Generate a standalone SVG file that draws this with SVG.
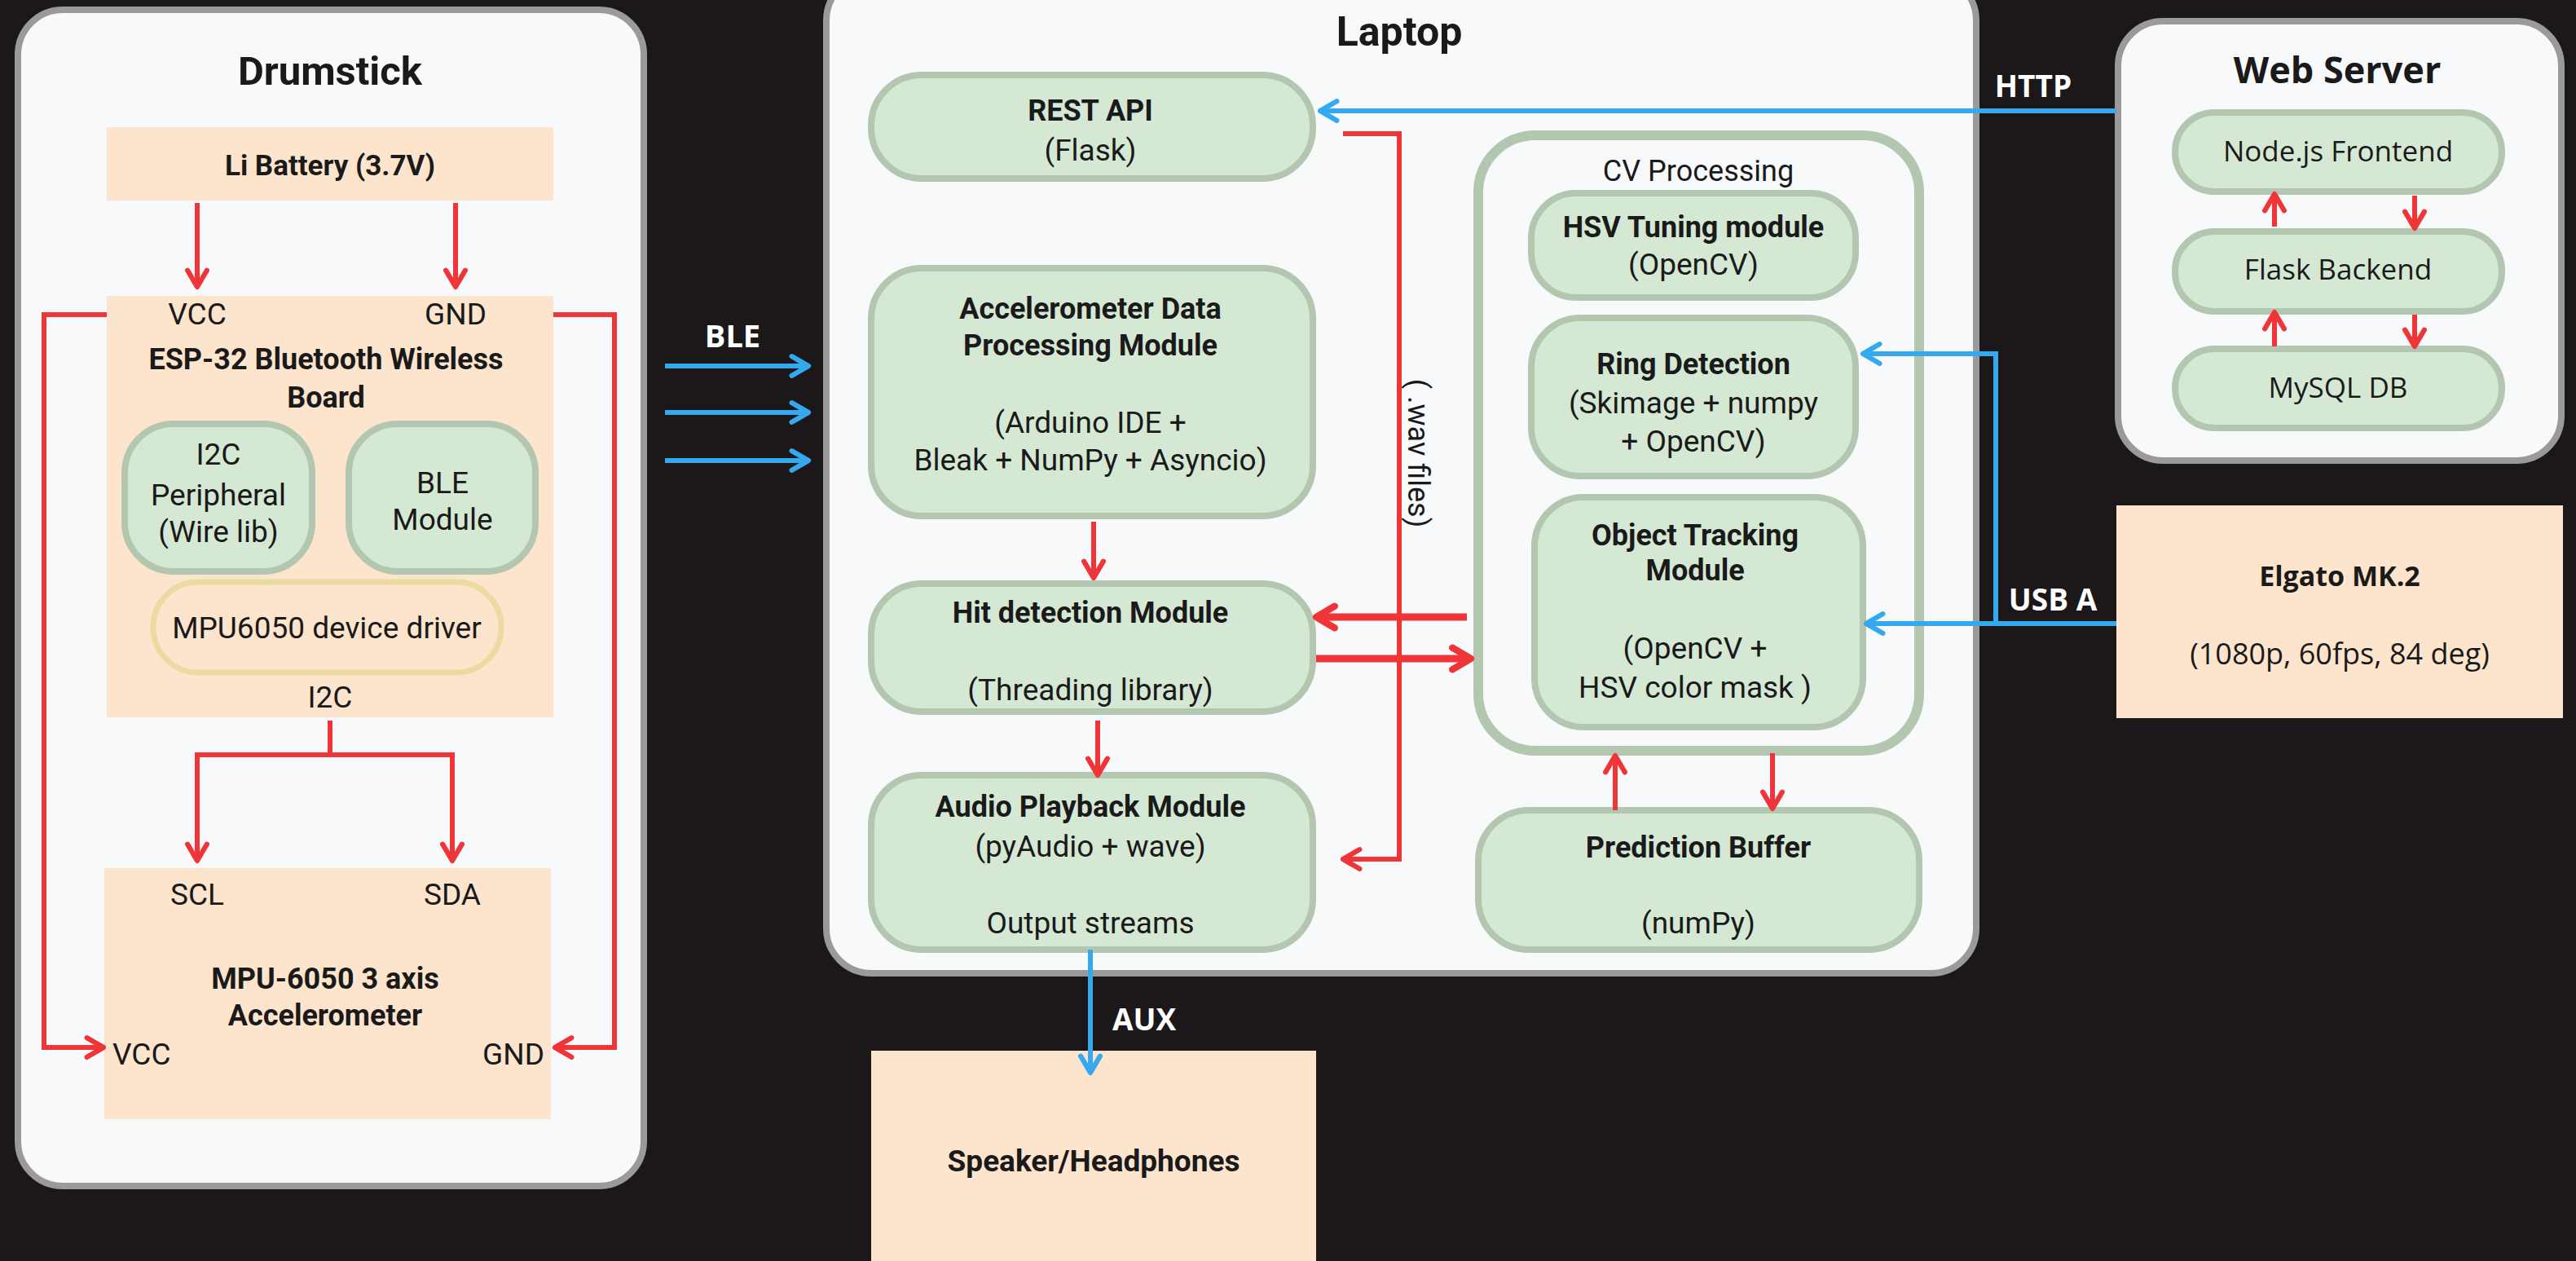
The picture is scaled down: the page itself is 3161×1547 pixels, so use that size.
<svg xmlns="http://www.w3.org/2000/svg" width="3161" height="1547" viewBox="0 0 3161 1547">
<defs>
<style>
.bg{fill:#1c181a}
.panel{fill:#f8f9fb;stroke:#9a9a9a;stroke-width:8}
.peach{fill:#fde4cc}
.pill{fill:#d5e8d4;stroke:#b3c7b0;stroke-width:8}
.drv{fill:none;stroke:#e9dba2;stroke-width:7}
.cv{fill:#f8f9fb;stroke:#b3c7b0;stroke-width:12}
.t{font-family:Roboto,"Liberation Sans",sans-serif;fill:#1a1a1a;text-anchor:middle;font-size:37px}
.b{font-weight:bold}
.w{font-family:"Open Sans","Liberation Sans",sans-serif;fill:#1a1a1a;text-anchor:middle;font-size:35px}
.lbl{font-family:"Open Sans","Liberation Sans",sans-serif;fill:#ffffff;font-weight:bold;text-anchor:middle;font-size:37px}
.f34{font-size:34px}
.f35{font-size:35px}
.f36{font-size:36px}
.f38{font-size:38px}
.f45{font-size:45px}
.f49{font-size:49px}
.f50{font-size:50px}
.st{text-anchor:start}
.en{text-anchor:end}
.red{fill:none;stroke:#ef3538;stroke-width:6;marker-end:url(#ar)}
.redt{fill:none;stroke:#ef3538;stroke-width:9;marker-end:url(#ar2)}
.blue{fill:none;stroke:#35a9ef;stroke-width:6;marker-end:url(#ab)}
</style>
<marker id="ar" viewBox="0 0 20 20" refX="17" refY="10" markerWidth="34" markerHeight="34" markerUnits="userSpaceOnUse" orient="auto"><path d="M5,3 L17,10 L5,17" fill="none" stroke="#ef3538" stroke-width="3.6" stroke-linecap="round" stroke-linejoin="round"/></marker>
<marker id="ar2" viewBox="0 0 20 20" refX="17" refY="10" markerWidth="38" markerHeight="38" markerUnits="userSpaceOnUse" orient="auto"><path d="M5,3 L17,10 L5,17" fill="none" stroke="#ef3538" stroke-width="4.4" stroke-linecap="round" stroke-linejoin="round"/></marker>
<marker id="ab" viewBox="0 0 20 20" refX="17" refY="10" markerWidth="34" markerHeight="34" markerUnits="userSpaceOnUse" orient="auto"><path d="M5,3 L17,10 L5,17" fill="none" stroke="#35a9ef" stroke-width="3.6" stroke-linecap="round" stroke-linejoin="round"/></marker>
</defs>
<rect class="bg" x="0" y="0" width="3161" height="1547"/>

<g id="drumstick">
<rect class="panel" x="22" y="12" width="768" height="1443" rx="55"/>
<text class="t b f49" x="405" y="104">Drumstick</text>
</g>
<g id="battery">
<rect class="peach" x="131" y="156" width="548" height="90"/>
<text class="t b f35" x="405" y="215">Li Battery (3.7V)</text>
</g>
<g id="esp32">
<rect class="peach" x="131" y="363" width="548" height="517"/>
<text class="t" x="242" y="398">VCC</text>
<text class="t" x="559" y="398">GND</text>
<text class="t b f36" x="400" y="453">ESP-32 Bluetooth Wireless</text>
<text class="t b f36" x="400" y="500">Board</text>
<text class="t" x="405" y="868">I2C</text>
</g>
<g id="i2c-peripheral">
<rect class="pill" x="153" y="520" width="230" height="181" rx="60"/>
<text class="t" x="268" y="570">I2C</text>
<text class="t" x="268" y="620">Peripheral</text>
<text class="t" x="268" y="665">(Wire lib)</text>
</g>
<g id="ble-module">
<rect class="pill" x="428" y="520" width="229" height="181" rx="60"/>
<text class="t" x="543" y="605">BLE</text>
<text class="t" x="543" y="650">Module</text>
</g>
<g id="mpu-driver">
<rect class="drv" x="188" y="714" width="427" height="111" rx="55"/>
<text class="t" x="401" y="783">MPU6050 device driver</text>
</g>
<g id="mpu6050">
<rect class="peach" x="128" y="1065" width="548" height="308"/>
<text class="t" x="242" y="1110">SCL</text>
<text class="t" x="555" y="1110">SDA</text>
<text class="t b f36" x="399" y="1213">MPU-6050 3 axis</text>
<text class="t b f36" x="399" y="1258">Accelerometer</text>
<text class="t st" x="138" y="1306">VCC</text>
<text class="t en" x="668" y="1306">GND</text>
</g>

<g id="laptop">
<rect class="panel" x="1014" y="-30" width="1411" height="1224" rx="55"/>
<text class="t b f50" x="1717" y="56">Laptop</text>
</g>
<g id="rest-api">
<rect class="pill" x="1069" y="92" width="542" height="127" rx="62"/>
<text class="t b f36" x="1338" y="148">REST API</text>
<text class="t" x="1338" y="197">(Flask)</text>
</g>
<g id="accel-processing">
<rect class="pill" x="1069" y="329" width="542" height="304" rx="62"/>
<text class="t b f36" x="1338" y="391">Accelerometer Data</text>
<text class="t b f36" x="1338" y="436">Processing Module</text>
<text class="t" x="1338" y="531">(Arduino IDE +</text>
<text class="t" x="1338" y="577">Bleak + NumPy + Asyncio)</text>
</g>
<g id="hit-detection">
<rect class="pill" x="1069" y="716" width="542" height="157" rx="62"/>
<text class="t b f36" x="1338" y="764">Hit detection Module</text>
<text class="t" x="1338" y="859">(Threading library)</text>
</g>
<g id="audio-playback">
<rect class="pill" x="1069" y="951" width="542" height="214" rx="62"/>
<text class="t b f36" x="1338" y="1002">Audio Playback Module</text>
<text class="t" x="1338" y="1051">(pyAudio + wave)</text>
<text class="t" x="1338" y="1145">Output streams</text>
</g>
<g id="cv-processing">
<rect class="cv" x="1814" y="166" width="541" height="755" rx="70"/>
<text class="t f36" x="2084" y="222">CV Processing</text>
</g>
<g id="hsv-tuning">
<rect class="pill" x="1879" y="237" width="398" height="128" rx="55"/>
<text class="t b f36" x="2078" y="291">HSV Tuning module</text>
<text class="t" x="2078" y="337">(OpenCV)</text>
</g>
<g id="ring-detection">
<rect class="pill" x="1879" y="390" width="398" height="194" rx="60"/>
<text class="t b f36" x="2078" y="459">Ring Detection</text>
<text class="t" x="2078" y="507">(Skimage + numpy</text>
<text class="t" x="2078" y="554">+ OpenCV)</text>
</g>
<g id="object-tracking">
<rect class="pill" x="1883" y="610" width="403" height="282" rx="60"/>
<text class="t b f36" x="2080" y="669">Object Tracking</text>
<text class="t b f36" x="2080" y="712">Module</text>
<text class="t" x="2080" y="808">(OpenCV +</text>
<text class="t" x="2080" y="856">HSV color mask )</text>
</g>
<g id="prediction-buffer">
<rect class="pill" x="1814" y="994" width="541" height="171" rx="62"/>
<text class="t b f36" x="2084" y="1052">Prediction Buffer</text>
<text class="t" x="2084" y="1145">(numPy)</text>
</g>

<g id="speaker">
<rect class="peach" x="1069" y="1289" width="546" height="290"/>
<text class="t b" x="1342" y="1437">Speaker/Headphones</text>
</g>

<g id="web-server">
<rect class="panel" x="2599" y="26" width="544" height="539" rx="55"/>
<text class="w b f45" x="2868" y="102">Web Server</text>
</g>
<g id="nodejs-frontend">
<rect class="pill" x="2669" y="138" width="401" height="97" rx="48"/>
<text class="w" x="2869" y="198">Node.js Frontend</text>
</g>
<g id="flask-backend">
<rect class="pill" x="2669" y="284" width="401" height="98" rx="48"/>
<text class="w" x="2869" y="343">Flask Backend</text>
</g>
<g id="mysql-db">
<rect class="pill" x="2669" y="428" width="401" height="97" rx="48"/>
<text class="w" x="2869" y="488">MySQL DB</text>
</g>

<g id="elgato">
<rect class="peach" x="2597" y="620" width="548" height="261"/>
<text class="w b f34" x="2871" y="719">Elgato MK.2</text>
<text class="w f36" x="2871" y="815">(1080p, 60fps, 84 deg)</text>
</g>

<g id="connectors">
<path class="red" d="M242,249 V352"/>
<path class="red" d="M559,249 V352"/>
<path class="red" d="M405,884 V926 H242 V1056"/>
<path class="red" d="M405,926 H555 V1056"/>
<path class="red" d="M131,386 H54 V1285 H127"/>
<path class="red" d="M679,386 H754 V1285 H681"/>
<path class="blue" d="M816,449 H992"/>
<path class="blue" d="M816,506 H992"/>
<path class="blue" d="M816,565 H992"/>
<text class="lbl f38" x="899" y="426">BLE</text>
<path class="red" d="M1648,164 H1717 V1054 H1648"/>
<text class="t f36" x="0" y="0" transform="translate(1728,556) rotate(90)">( .wav files)</text>
<path class="red" d="M1342,640 V709"/>
<path class="red" d="M1347,884 V951"/>
<path class="redt" d="M1800,757 H1615"/>
<path class="redt" d="M1615,808 H1805"/>
<path class="red" d="M1982,994 V927"/>
<path class="red" d="M2175,924 V992"/>
<path class="blue" d="M1338,1165 V1316"/>
<text class="lbl" x="1404" y="1264">AUX</text>
<path class="blue" d="M2597,136 H1620"/>
<text class="lbl" x="2495" y="119">HTTP</text>
<path class="blue" d="M2597,765 H2290"/>
<path class="blue" d="M2449,765 V434 H2286"/>
<text class="lbl" x="2519" y="749">USB A</text>
<path class="red" d="M2791,278 V238"/>
<path class="red" d="M2963,240 V280"/>
<path class="red" d="M2791,425 V383"/>
<path class="red" d="M2963,386 V425"/>
</g>
</svg>
